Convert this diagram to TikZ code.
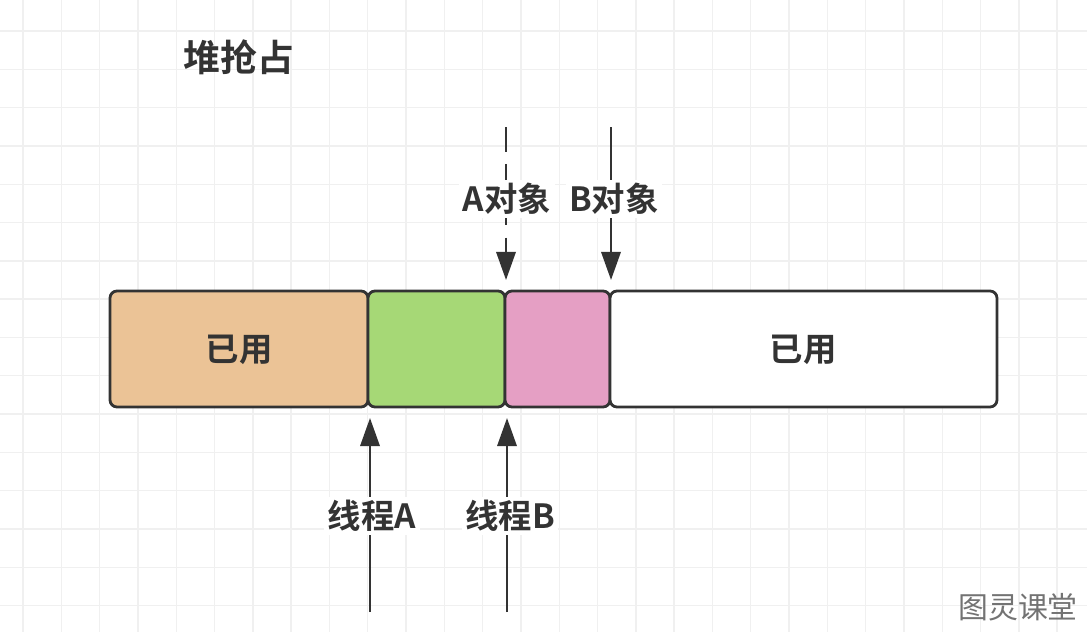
\documentclass[tikz,border=0pt]{standalone}
\usepackage{fontspec}
\newfontfamily\cjk{Noto Sans CJK SC}
\newfontfamily\cjkb{Noto Sans CJK SC Bold}
\usetikzlibrary{arrows.meta}
\definecolor{usedorange}{HTML}{EBC396}
\definecolor{tlabgreen}{HTML}{A6D876}
\definecolor{objpink}{HTML}{E59FC4}
\definecolor{ink}{HTML}{333333}
\tikzset{
  cell/.style={draw=ink, line width=1.6pt, rounded corners=4pt},
  lbl/.style={font=\cjkb\fontsize{19}{21}\selectfont, text=ink},
  ptr/.style={draw=ink, line width=1.4pt, -{Triangle[length=16pt,width=11pt]}}
}
\begin{document}
\begin{tikzpicture}[x=0.02cm, y=-0.02cm]
    \useasboundingbox (0,0) rectangle (1087,632);
    % grid
    \foreach \i in {0,...,28} \draw[black!6, line width=0.8pt] (23+38.3*\i, 0) -- (23+38.3*\i, 632);
    \foreach \j in {0,...,16} \draw[black!6, line width=0.8pt] (0, 31+38.3*\j) -- (1087, 31+38.3*\j);

    \node[lbl, font=\cjkb\fontsize{21}{23}\selectfont] (title) at (239, 57) {堆抢占};

    \draw[cell, fill=usedorange] (110, 291) rectangle (368, 407);
    \draw[cell, fill=tlabgreen] (368, 291) rectangle (505, 407);
    \draw[cell, fill=objpink] (505, 291) rectangle (610, 407);
    \draw[cell, fill=white] (610, 291) rectangle (997, 407);
    \node[lbl] (used1) at (239, 350) {已用};
    \node[lbl] (used2) at (803, 350) {已用};

    \coordinate (atop) at (506, 127);
    \coordinate (atip) at (506, 280);
    \coordinate (btop) at (611, 127);
    \coordinate (btip) at (611, 280);
    \draw[ptr, dash pattern=on 14pt off 7pt] (atop) -- (atip);
    \draw[ptr] (btop) -- (btip);
    \node[lbl, fill=white, inner sep=2pt] (objA) at (507, 199) {A对象};
    \node[lbl, fill=white, inner sep=2pt] (objB) at (614, 199) {B对象};

    \coordinate (tabot) at (370, 612);
    \coordinate (tatip) at (370, 418);
    \coordinate (tbbot) at (507, 612);
    \coordinate (tbtip) at (507, 418);
    \draw[ptr] (tabot) -- (tatip);
    \draw[ptr] (tbbot) -- (tbtip);
    \node[lbl, fill=white, inner sep=2pt] (thrA) at (372, 516) {线程A};
    \node[lbl, fill=white, inner sep=2pt] (thrB) at (510, 516) {线程B};

    \node[font=\cjk\fontsize{17}{19}\selectfont, text=black!55] (mark) at (1018, 607) {图灵课堂};
\end{tikzpicture}
\end{document}
